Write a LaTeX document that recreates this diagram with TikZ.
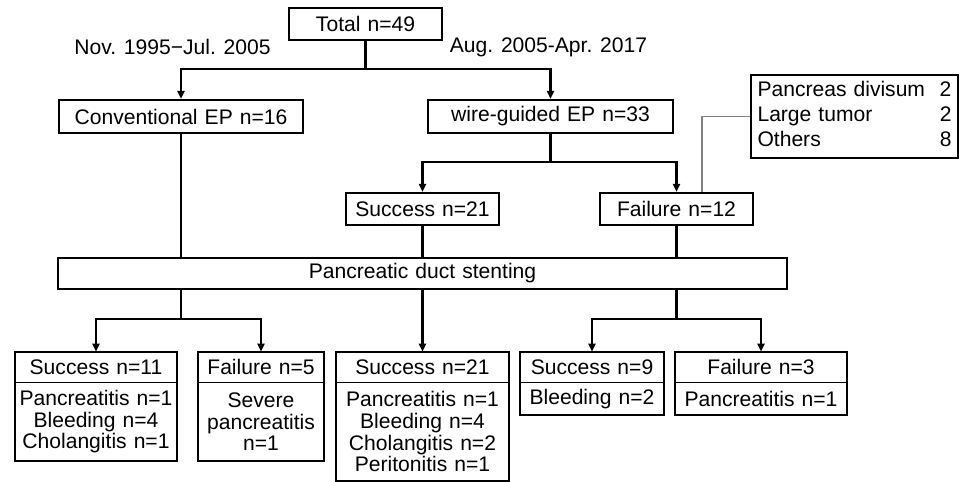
\documentclass[tikz,border=0pt]{standalone}
\usepackage{fontspec}
\setmainfont{Liberation Sans}
\usetikzlibrary{shapes, arrows.meta, positioning}

\begin{document}
\begin{tikzpicture}[x=0.02cm, y=-0.02cm,
            box/.style={draw, rectangle, line width=1.3pt, inner sep=0pt, minimum height=0.64cm, align=center, font=\fontsize{12}{12.4}\selectfont},
            cell/.style={rectangle, inner sep=0pt, align=center, font=\fontsize{12}{12.4}\selectfont},
            frame/.style={line width=1.3pt},
            link/.style={line width=1.3pt},
            arr/.style={line width=1.3pt, -{Triangle[length=0.16cm, width=0.14cm]}},
            note/.style={font=\fontsize{12}{14}\selectfont}]
            \useasboundingbox (0,0) rectangle (966,482);
            \node[box, text width=3.06cm] (total) at (365.5,24) {Total n=49};
            \node[note] (early) at (172.5,47) {Nov. 1995−Jul. 2005};
            \node[note] (late) at (548.5,47) {Aug. 2005-Apr. 2017};
            \node[box, text width=4.88cm, minimum height=0.66cm] (conv) at (181,116.5) {Conventional EP n=16};
            \node[box, text width=4.9cm, minimum height=0.66cm] (wire) at (550.5,116.5) {wire-guided EP n=33};
            \node[box, text width=3.88cm, inner xsep=0.13cm, minimum height=1.66cm, align=left, font=\fontsize{12}{14.2}\selectfont] (excl) at (854.5,116.5)
                {\begin{tabular*}{3.88cm}{@{}l@{\extracolsep{\fill}}r@{}}Pancreas divisum & 2\\ Large tumor & 2\\ Others & 8\end{tabular*}};
            \node[box, text width=3.06cm] (succ) at (422.5,209) {Success n=21};
            \node[box, text width=3.06cm] (fail) at (676.5,209) {Failure n=12};
            \node[box, text width=14.58cm, minimum height=0.62cm] (stent) at (422.5,273.5) {Pancreatic duct stenting};

            % results after stenting
            \node[cell, text width=3.24cm, minimum height=0.6cm] (s1) at (96,367) {Success n=11};
            \node[cell, text width=3.24cm, minimum height=1.56cm, anchor=north] (s1x) at (s1.south) {Pancreatitis n=1\\Bleeding n=4\\Cholangitis n=1};
            \node[cell, text width=2.5cm, minimum height=0.6cm] (f1) at (261,367) {Failure n=5};
            \node[cell, text width=2.5cm, minimum height=1.56cm, anchor=north] (f1x) at (f1.south) {Severe\\pancreatitis\\n=1};
            \node[cell, text width=3.44cm, minimum height=0.6cm] (s2) at (422.5,367) {Success n=21};
            \node[cell, text width=3.44cm, minimum height=1.96cm, anchor=north] (s2x) at (s2.south) {Pancreatitis n=1\\Bleeding n=4\\Cholangitis n=2\\Peritonitis n=1};
            \node[cell, text width=2.88cm, minimum height=0.6cm] (s3) at (592,367) {Success n=9};
            \node[cell, text width=2.88cm, minimum height=0.64cm, anchor=north] (s3x) at (s3.south) {Bleeding n=2};
            \node[cell, text width=3.44cm, minimum height=0.6cm] (f3) at (761,367) {Failure n=3};
            \node[cell, text width=3.44cm, minimum height=0.64cm, anchor=north] (f3x) at (f3.south) {Pancreatitis n=1};
            \foreach \h/\b in {s1/s1x, f1/f1x, s2/s2x, s3/s3x, f3/f3x} {
                \draw[frame] (\h.north west) rectangle (\b.south east);
                \draw[line width=0.5pt] (\h.south west) -- (\h.south east);
            }

            \coordinate (fork1) at (365.5,69);
            \coordinate (fork2) at (550.5,162);
            \coordinate (fork3) at (181,319);
            \coordinate (fork4) at (676.5,319);
            \coordinate (bend) at (702,116.5);

            \draw[link] (total) -- (fork1);
            \draw[arr] (fork1) -| (conv);
            \draw[arr] (fork1) -| (wire);
            \draw[link] (wire) -- (fork2);
            \draw[arr] (fork2) -| (succ);
            \draw[arr] (fork2) -| (fail);
            \draw[gray, line width=0.6pt] (excl) -- (bend) -- (bend |- fail.north);
            \draw[link] (conv) -- (conv |- stent.north);
            \draw[link] (succ) -- (stent);
            \draw[link] (fail) -- (fail |- stent.north);
            \draw[link] (fork3 |- stent.south) -- (fork3);
            \draw[arr] (fork3) -| (s1);
            \draw[arr] (fork3) -| (f1);
            \draw[arr] (stent) -- (s2);
            \draw[link] (fork4 |- stent.south) -- (fork4);
            \draw[arr] (fork4) -| (s3);
            \draw[arr] (fork4) -| (f3);
        \end{tikzpicture}
\end{document}
